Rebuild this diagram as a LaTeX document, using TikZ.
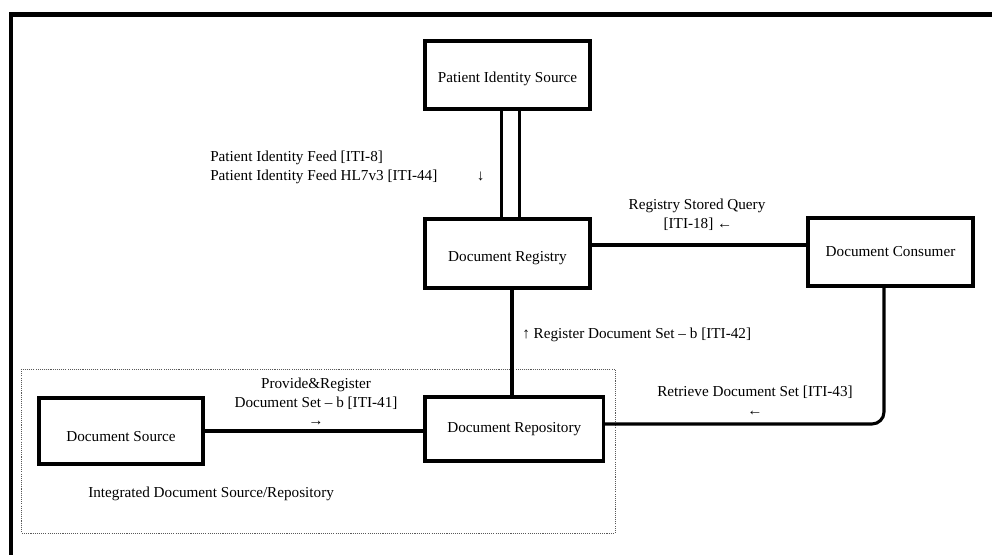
\documentclass[tikz,border=0pt]{standalone}
\usepackage{fontspec}
\setmainfont{Liberation Serif}
\usetikzlibrary{calc}
\newcommand{\lowertext}[2]{\raisebox{-#1}[\height][\depth]{#2}}
\begin{document}
\begin{tikzpicture}[x=0.75pt,y=-0.75pt,
  font=\fontsize{11.4}{14.5}\selectfont,
  actor/.style={draw,line width=2.6pt,inner sep=0pt,outer sep=0pt,fill=white},
  conn/.style={line width=2.3pt},
  lbl/.style={inner sep=0pt,align=center},
  grp/.style={draw=black!65,line width=0.6pt,dash pattern=on 0.8pt off 0.8pt}
]
\useasboundingbox (0,0) rectangle (992,555);
\fill[white] (0,0) rectangle (992,555);
% outer frame
\draw[line width=3.4pt] (10.8,14.5) rectangle (1100,700);
% group box
\draw[grp] (21.7,369) rectangle (615,533);

% actors
\node[actor,minimum width=123.75pt,minimum height=51pt] (pis) at (507.5,75) {\lowertext{3pt}{Patient Identity Source}};
\node[actor,minimum width=123.75pt,minimum height=51.75pt] (reg) at (507.5,253.5) {\lowertext{3.5pt}{Document Registry}};
\node[actor,minimum width=123.75pt,minimum height=51pt] (cons) at (890.5,252) {Document Consumer};
\node[actor,minimum width=123pt,minimum height=49.5pt] (src) at (121,431) {\lowertext{4pt}{Document Source}};
\node[actor,minimum width=133.9pt,minimum height=48pt] (rep) at (514.25,429) {Document Repository};

% connectors
\draw[conn] ($(pis.south)+(-5.8,0)$) coordinate (p1) -- (p1 |- reg.north);
\draw[conn] ($(pis.south)+(11.8,0)$) coordinate (p2) -- (p2 |- reg.north);
\draw[conn] ($(reg.east)+(0,-8.5)$) coordinate (rc) -- (rc -| cons.west);
\draw[conn] ($(reg.south)+(4.5,0)$) coordinate (rr) -- (rr |- rep.north);
\draw[conn] (src.east) -- (src.east -| rep.west);
\draw[conn,rounded corners=9pt] ($(cons.south)+(-6.5,0)$) coordinate (cs) |- ($(rep.east)+(0,-5)$);

% labels
\node[lbl,anchor=base west] (f1) at (210,161.5) {Patient Identity Feed [ITI-8]};
\node[lbl,anchor=base west] (f2) at (210,180.5) {Patient Identity Feed HL7v3 [ITI-44]};
\node[lbl,anchor=base] (fa) at (480.7,180.5) {↓};
\node[lbl,anchor=base] (q1) at (697,210) {Registry Stored Query};
\node[lbl,anchor=base] (q2) at (698,229) {[ITI-18] ←};
\node[lbl,anchor=base west] (r42) at (522,339) {↑ Register Document Set – b [ITI-42]};
\node[lbl,anchor=base] (r43) at (755,396.5) {Retrieve Document Set [ITI-43]};
\node[lbl,anchor=base] (r43a) at (755,416) {←};
\node[lbl,anchor=base] (p41a) at (316,389) {Provide\&Register};
\node[lbl,anchor=base] (p41b) at (316,408) {Document Set – b [ITI-41]};
\node[lbl,anchor=base] (p41c) at (316,426) {→};
\node[lbl,anchor=base west] (grpl) at (88,498) {Integrated Document Source/Repository};
\end{tikzpicture}
\end{document}
